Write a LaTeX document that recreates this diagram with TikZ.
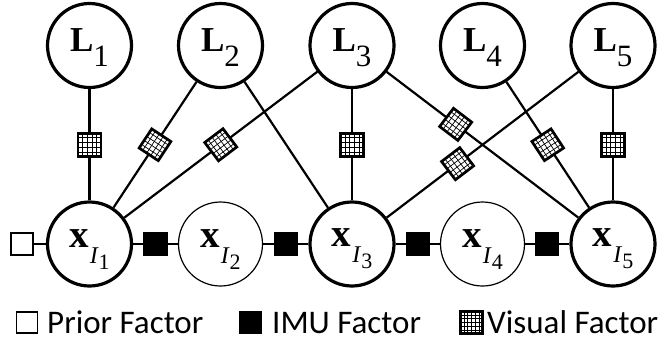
\documentclass[tikz,border=0pt]{standalone}
\usepackage{fontspec}
\newfontfamily\legfont{Carlito}
\newfontfamily\labfont{Liberation Serif}
\usetikzlibrary{calc}
\tikzset{
  varthick/.style={circle, draw, line width=3.2pt, minimum size=84pt, inner sep=0pt, fill=white, font=\labfont},
  varthin/.style={varthick, line width=1.2pt},
  conn/.style={line width=2.2pt},
  priorfac/.style={rectangle, draw, line width=1.4pt, fill=white, minimum size=22pt, inner sep=0pt},
  imufac/.style={rectangle, draw, line width=1.4pt, fill=black, minimum size=23pt, inner sep=0pt},
  visfac/.style={rectangle, draw, line width=1.8pt, fill=white, minimum size=22pt, inner sep=0pt},
  gridln/.style={line width=0.7pt},
  legtext/.style={anchor=base west, inner sep=0pt, font=\legfont\fontsize{33}{38}\selectfont},
}
\newcommand{\Lab}[1]{\rule{0pt}{27pt}{\fontsize{35}{40}\selectfont\textbf{L}}\raisebox{-15pt}{\fontsize{31}{31}\selectfont #1}}
\newcommand{\Xab}[1]{\rule{0pt}{28pt}{\fontsize{39}{40}\selectfont\textbf{x}}\kern1pt\raisebox{-16pt}{\fontsize{24}{24}\selectfont\itshape I\kern1pt\raisebox{-6pt}{\fontsize{22}{22}\selectfont\upshape #1}}}
\newcommand{\gridfill}[2]{%
  \foreach \t in {#2}{%
    \draw[gridln] ($(#1.north west)!\t!(#1.north east)$) -- ($(#1.south west)!\t!(#1.south east)$);
    \draw[gridln] ($(#1.north west)!\t!(#1.south west)$) -- ($(#1.north east)!\t!(#1.south east)$);
  }%
  \draw[line width=1.8pt, line join=miter] (#1.north west) -- (#1.north east) -- (#1.south east) -- (#1.south west) -- cycle;
}
\begin{document}
\begin{tikzpicture}[x=1pt, y=-1pt]
\useasboundingbox (0,0) rectangle (666,349);
% landmarks
\node[varthick] (L1) at (89.5,45.5) {\Lab{1}};
\node[varthick] (L2) at (220.5,45.5) {\Lab{2}};
\node[varthick] (L3) at (352,45.5) {\Lab{3}};
\node[varthick] (L4) at (482.5,45.5) {\Lab{4}};
\node[varthick] (L5) at (613,45.5) {\Lab{5}};
% states
\node[varthick] (X1) at (89.5,244) {\Xab{1}};
\node[varthin]  (X2) at (220.5,244) {\Xab{2}};
\node[varthick] (X3) at (352,244) {\Xab{3}};
\node[varthin]  (X4) at (482.5,244) {\Xab{4}};
\node[varthick] (X5) at (613,244) {\Xab{5}};
% prior
\node[priorfac] (P1) at (22,244) {};
\draw[conn] (P1) -- (X1);
% IMU factors
\draw[conn] (X1) -- node[imufac] (M12) {} (X2);
\draw[conn] (X2) -- node[imufac] (M23) {} (X3);
\draw[conn] (X3) -- node[imufac] (M34) {} (X4);
\draw[conn] (X4) -- node[imufac] (M45) {} (X5);
% visual connectors
\draw[conn] (L2) -- (X3);
\draw[conn] (L1) -- node[visfac, pos=0.5] (V11) {} (X1);
\draw[conn] (L2) -- node[visfac, sloped, pos=0.5] (V21) {} (X1);
\draw[conn] (L3) -- node[visfac, sloped, pos=0.5] (V31) {} (X1);
\draw[conn] (L3) -- node[visfac, pos=0.5] (V33) {} (X3);
\draw[conn] (L3) -- node[visfac, sloped, pos=0.36] (V35) {} (X5);
\draw[conn] (L5) -- node[visfac, sloped, pos=0.63] (V53) {} (X3);
\draw[conn] (L4) -- node[visfac, sloped, pos=0.5] (V45) {} (X5);
\draw[conn] (L5) -- node[visfac, pos=0.5] (V55) {} (X5);
\gridfill{V11}{0.2,0.4,0.6,0.8}
\gridfill{V21}{0.2,0.4,0.6,0.8}
\gridfill{V31}{0.2,0.4,0.6,0.8}
\gridfill{V33}{0.2,0.4,0.6,0.8}
\gridfill{V35}{0.2,0.4,0.6,0.8}
\gridfill{V53}{0.2,0.4,0.6,0.8}
\gridfill{V45}{0.2,0.4,0.6,0.8}
\gridfill{V55}{0.2,0.4,0.6,0.8}
% legend
\node[priorfac, line width=1.2pt, minimum size=21pt] (LP) at (27,322.5) {};
\node[legtext] (LPT) at (47,333) {Prior Factor};
\node[imufac, minimum size=22pt] (LI) at (250.5,322.5) {};
\node[legtext] (LIT) at (272,333) {IMU Factor};
\node[visfac, minimum size=21pt] (LV) at (471.5,322.5) {};
\gridfill{LV}{0.167,0.333,0.5,0.667,0.833}
\node[legtext] (LVT) at (487,333) {Visual Factor};
\end{tikzpicture}
\end{document}
